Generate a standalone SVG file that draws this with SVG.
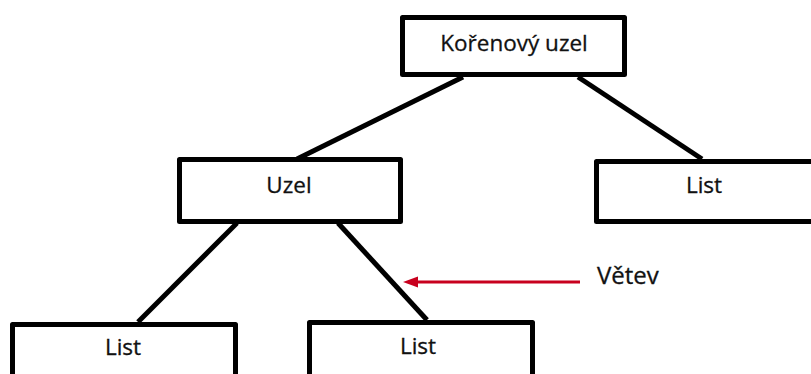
<svg xmlns="http://www.w3.org/2000/svg" width="811" height="374" viewBox="0 0 811 374">
  <defs>
    <style>
      .box { fill: #ffffff; stroke: #000000; stroke-width: 5; stroke-linejoin: round; }
      .edge { stroke: #000000; stroke-width: 5; fill: none; }
      .lbl { font-family: "Open Sans", "Noto Sans", "DejaVu Sans", sans-serif; font-size: 22.5px; fill: #111111; stroke: #111111; stroke-width: 0.3; text-anchor: middle; }
      .pointer { stroke: #c8001e; stroke-width: 3; fill: none; }
    </style>
  </defs>
  <rect width="811" height="374" fill="#ffffff"/>

  <!-- tree edges and the red branch pointer -->
  <g id="connectors">
    <line class="edge" x1="463" y1="77" x2="297" y2="159"/>
    <line class="edge" x1="578" y1="77" x2="702" y2="159"/>
    <line class="edge" x1="237" y1="223" x2="138" y2="322"/>
    <line class="edge" x1="338" y1="223" x2="427" y2="320"/>
    <line class="pointer" x1="580" y1="282" x2="417" y2="282"/>
    <path d="M403,282 L418,276.5 L418,287.5 Z" fill="#c8001e"/>
  </g>

  <g id="root">
    <rect class="box" x="402.5" y="17.5" width="222" height="57"/>
    <text class="lbl" x="514" y="51">Kořenový uzel</text>
  </g>

  <g id="node-uzel">
    <rect class="box" x="179.5" y="159.5" width="221" height="62"/>
    <text class="lbl" x="289" y="193">Uzel</text>
  </g>

  <g id="leaf-right">
    <rect class="box" x="596.5" y="161.5" width="230" height="60"/>
    <text class="lbl" x="704" y="193">List</text>
  </g>

  <g id="leaf-left">
    <rect class="box" x="12.5" y="324.5" width="223" height="70"/>
    <text class="lbl" x="123" y="355">List</text>
  </g>

  <g id="leaf-middle">
    <rect class="box" x="309.5" y="322.5" width="223" height="70"/>
    <text class="lbl" x="418" y="354">List</text>
  </g>

  <g id="branch-label">
    <text class="lbl" x="597" y="284" style="text-anchor:start;font-size:24px">Větev</text>
  </g>
</svg>
